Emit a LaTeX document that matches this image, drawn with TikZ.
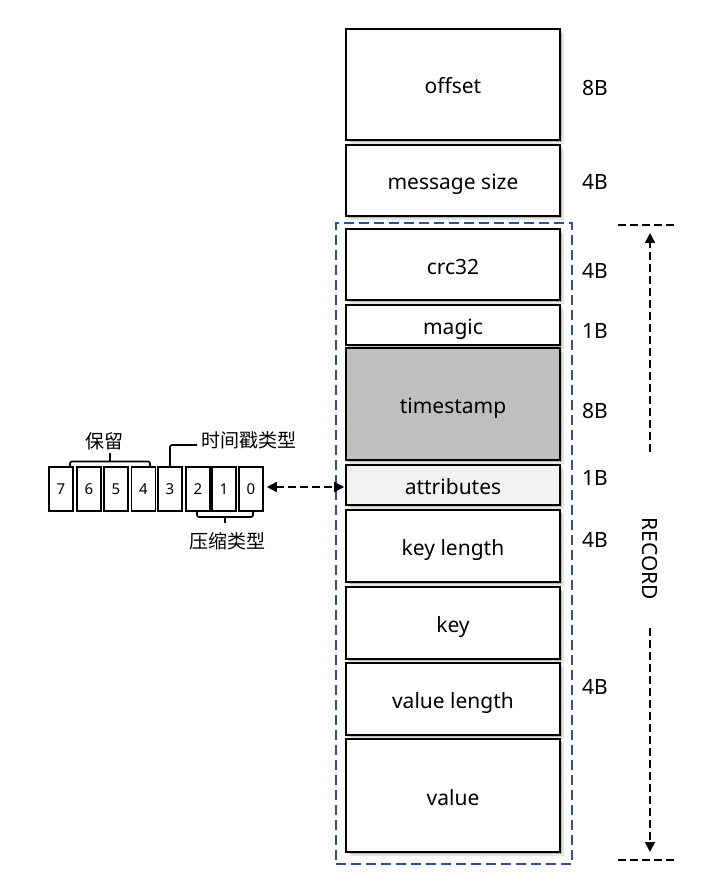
\documentclass[tikz,border=0pt]{standalone}
\usepackage{fontspec}
\setmainfont{Noto Sans}
\newfontfamily\cjk{Noto Sans CJK SC}
\usetikzlibrary{shadows,arrows.meta}
\definecolor{recblue}{RGB}{47,82,143}
\definecolor{tsgray}{RGB}{191,191,191}
\definecolor{attrgray}{RGB}{242,242,242}
\begin{document}
\begin{tikzpicture}[x=1pt,y=-1pt,
  field/.style={draw=black,line width=1.6pt,fill=white,minimum width=214pt,inner sep=0pt,
    font=\fontsize{21}{24}\selectfont,text height=19pt,text depth=0pt,
    general shadow={fill=black,opacity=0.10,shadow xshift=4pt,shadow yshift=-4pt},
    general shadow={fill=black,opacity=0.18,shadow xshift=2pt,shadow yshift=-2pt}},
  size/.style={font=\fontsize{21}{24}\selectfont},
  bit/.style={draw=black,line width=1.6pt,minimum width=24pt,minimum height=44pt,inner sep=0pt,
    font=\fontsize{15}{18}\selectfont},
  cjklabel/.style={font=\cjk\fontsize{19}{22}\selectfont,inner sep=0pt},
  brace/.style={line width=1.6pt,rounded corners=2pt},
  blackdash/.style={line width=1.6pt,dash pattern=on 8pt off 4pt}
]
\useasboundingbox (0,0) rectangle (716,890);

% RECORD dashed frame
\node[draw=recblue,line width=1.6pt,dash pattern=on 10pt off 5pt,minimum width=236pt,minimum height=641pt,inner sep=0pt] (frame) at (454,543.5) {};

% fields
\node[field,minimum height=111pt] (offset) at (453,84.5) {offset};
\node[field,minimum height=71pt] (msgsize) at (453,180.5) {message size};
\node[field,minimum height=71pt] (crc) at (453,264.5) {crc32};
\node[field,minimum height=40pt] (magic) at (453,325) {magic};
\node[field,minimum height=112pt,fill=tsgray] (ts) at (453,404) {timestamp};
\node[field,minimum height=40pt,fill=attrgray] (attr) at (453,485) {attributes};
\node[field,minimum height=72pt] (keylen) at (453,546) {key length};
\node[field,minimum height=72pt] (key) at (453,623) {key};
\node[field,minimum height=72pt] (vallen) at (453,699) {value length};
\node[field,minimum height=113pt] (val) at (453,795.5) {value};

% sizes
\node[size] (s1) at (595,88) {8B};
\node[size] (s2) at (595,182) {4B};
\node[size] (s3) at (595,271) {4B};
\node[size] (s4) at (595,331) {1B};
\node[size] (s5) at (595,411) {8B};
\node[size] (s6) at (595,478) {1B};
\node[size] (s7) at (595,540) {4B};
\node[size] (s8) at (595,687) {4B};

% RECORD marker
\coordinate (rtl) at (618,225);
\coordinate (rtr) at (674,225);
\coordinate (rbl) at (618,860);
\coordinate (rbr) at (674,860);
\draw[blackdash] (rtl) -- (rtr);
\draw[blackdash] (rbl) -- (rbr);
\node[size,rotate=-90,inner sep=0pt] (rec) at (650,559) {RECORD};
\coordinate (ra1) at (650,452);
\coordinate (ra2) at (650,233);
\coordinate (rb1) at (650,628);
\coordinate (rb2) at (650,852);
\draw[blackdash,-{Triangle[length=10pt,width=10pt]}] (ra1) -- (ra2);
\draw[blackdash,-{Triangle[length=10pt,width=10pt]}] (rb1) -- (rb2);

% bits
\node[bit] (b7) at (61,489) {7};
\node[bit] (b6) at (89,489) {6};
\node[bit] (b5) at (116,489) {5};
\node[bit] (b4) at (143.5,489) {4};
\node[bit] (b3) at (170,489) {3};
\node[bit] (b2) at (198,489) {2};
\node[bit] (b1) at (224,489) {1};
\node[bit] (b0) at (251,489) {0};

% braces and labels
\draw[brace] (70,466) -- (70,461.5) -- (150,461.5) -- (150,466);
\draw[line width=1.6pt] (110,461.5) -- (110,453);
\node[cjklabel] (baoliu) at (104,441) {保留};

\coordinate (tsl) at (197,445);
\draw[brace] (b3.north) -- (170,445) -- (tsl);
\node[cjklabel,anchor=west] (tstype) at (201,440) {时间戳类型};

\draw[brace] (197,512) -- (197,517) -- (253,517) -- (253,512);
\draw[line width=1.6pt] (225,517) -- (225,523);
\node[cjklabel] (compress) at (227,541) {压缩类型};

% link arrow
\draw[blackdash,{Triangle[length=10pt,width=10pt]}-{Triangle[length=10pt,width=10pt]}] (b0.east) ++(3,-2) -- ([xshift=-1pt,yshift=-2pt]attr.west);
\end{tikzpicture}
\end{document}
